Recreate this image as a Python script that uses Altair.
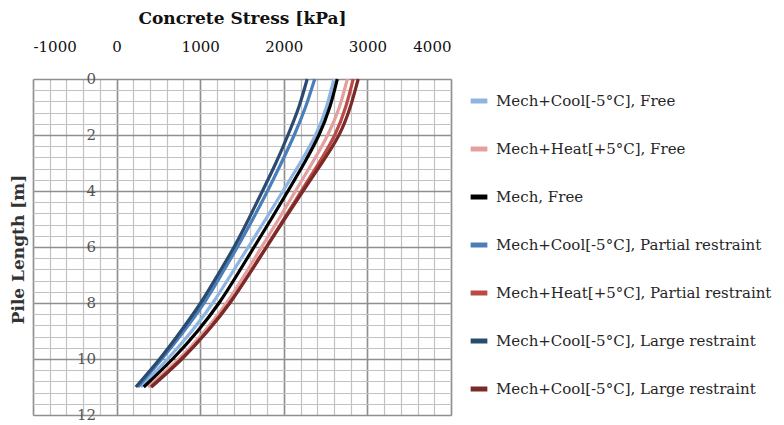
import altair as alt
import pandas as pd

# Depth below pile head [m]
depth = [0, 1, 2, 3, 4, 5, 6, 7, 8, 9, 10, 11]

# Axial concrete stress [kPa] for each load case
cool_free = [2600, 2510, 2380, 2195, 1990, 1785, 1575, 1365, 1150, 900, 610, 290]
heat_free = [2760, 2665, 2525, 2340, 2140, 1940, 1735, 1530, 1315, 1055, 745, 375]
mech_free = [2640, 2550, 2420, 2245, 2050, 1850, 1645, 1440, 1225, 970, 670, 325]
cool_partial = [2370, 2260, 2125, 1970, 1805, 1630, 1445, 1250, 1045, 805, 540, 255]
heat_partial = [2830, 2740, 2610, 2420, 2210, 2000, 1790, 1575, 1350, 1085, 775, 410]
cool_large = [2280, 2180, 2050, 1905, 1745, 1580, 1405, 1210, 1005, 770, 515, 230]
cool_large_2 = [2890, 2795, 2660, 2455, 2230, 2010, 1795, 1580, 1355, 1090, 780, 415]

series_names = [
    "Mech+Cool[-5°C], Free",
    "Mech+Heat[+5°C], Free",
    "Mech, Free",
    "Mech+Cool[-5°C], Partial restraint",
    "Mech+Heat[+5°C], Partial restraint",
    "Mech+Cool[-5°C], Large restraint",
    "Mech+Cool[-5°C], Large restraint",
]
series_values = [cool_free, heat_free, mech_free, cool_partial,
                 heat_partial, cool_large, cool_large_2]
series_colors = ["#8EB4E3", "#E3A09E", "#000000", "#4A7EBB",
                 "#BB4A47", "#2B4A70", "#7A2A28"]

x_ticks = [-1000, 0, 1000, 2000, 3000, 4000]
y_ticks = [0, 2, 4, 6, 8, 10, 12]
x_minor = list(range(-1000, 4001, 200))
y_minor = [round(0.4 * i, 1) for i in range(31)]

# Series keys are numbered so the two identically named cases stay separate
keys = [str(i + 1) for i in range(len(series_names))]
rows = []
for k, vals in zip(keys, series_values):
    for d, v in zip(depth, vals):
        rows.append({"series": k, "depth": d, "stress": v})
df = pd.DataFrame(rows)

FONT = "DejaVu Serif"
W, H = 418, 336

x_scale = alt.Scale(domain=[-1000, 4000], nice=False, zero=False)
y_scale = alt.Scale(domain=[0, 12], nice=False, zero=False, reverse=True)

label_lookup = "[" + ",".join("'" + n + "'" for n in series_names) + "]"

minor = alt.Chart(df).mark_line(opacity=0).encode(
    x=alt.X("stress:Q", scale=x_scale,
            axis=alt.Axis(orient="top", values=x_minor, grid=True, labels=False,
                          ticks=False, domain=False, title=None,
                          gridColor="#c2c2c2", gridWidth=1.2)),
    y=alt.Y("depth:Q", scale=y_scale,
            axis=alt.Axis(orient="left", values=y_minor, grid=True, labels=False,
                          ticks=False, domain=False, title=None,
                          gridColor="#c2c2c2", gridWidth=1.2)),
    detail="series:N",
)

lines = alt.Chart(df).mark_line(strokeWidth=3.2, interpolate="natural").encode(
    x=alt.X("stress:Q", scale=x_scale,
            axis=alt.Axis(orient="top", values=x_ticks, grid=True,
                          labelExpr="'' + datum.value",
                          gridColor="#8f8f8f", gridWidth=1.6,
                          ticks=False, tickSize=0, domain=False,
                          labelFont=FONT, labelFontSize=15, labelColor="#111111",
                          labelPadding=25,
                          title="Concrete Stress [kPa]", titleFont=FONT,
                          titleFontSize=17, titleFontWeight="bold",
                          titleColor="#111111", titleX=W / 2, titleY=-61,
                          titleAlign="center", titleBaseline="middle")),
    y=alt.Y("depth:Q", scale=y_scale,
            axis=alt.Axis(orient="left", values=y_ticks, grid=True,
                          gridColor="#8f8f8f", gridWidth=1.6,
                          labels=False, ticks=False, domain=False,
                          title="Pile Length [m]", titleFont=FONT,
                          titleFontSize=17, titleFontWeight="bold",
                          titleColor="#333333", titleX=-15, titleY=H / 2 + 2,
                          titleAngle=-90, titleAlign="center",
                          titleBaseline="middle")),
    color=alt.Color("series:N",
                    scale=alt.Scale(domain=keys, range=series_colors),
                    legend=alt.Legend(orient="none", legendX=435, legendY=11,
                                      title=None, padding=0,
                                      symbolType="stroke", symbolSize=280,
                                      symbolStrokeWidth=5, labelOffset=6,
                                      labelFont=FONT, labelFontSize=15,
                                      labelColor="#262626", labelLimit=400,
                                      rowPadding=27,
                                      labelExpr=label_lookup + "[toNumber(datum.label) - 1]")),
    order=alt.Order("depth:Q"),
)

# Depth labels sit inside the plot, left of the zero-stress line
ylab = alt.Chart(pd.DataFrame({"depth": y_ticks})).mark_text(
    align="right", baseline="middle", font=FONT, fontSize=15, color="#555555"
).encode(
    x=alt.value(63),
    y=alt.Y("depth:Q", scale=y_scale, axis=None),
    text=alt.Text("depth:Q"),
)

chart = alt.layer(minor, lines, ylab).resolve_axis(
    x="independent", y="independent"
).properties(
    width=W, height=H,
    autosize=alt.AutoSizeParams(type="none"),
    padding={"left": 33, "top": 79, "right": 333, "bottom": 10},
).configure_view(stroke=None).configure(background="white")

chart.save("out.html", embed_options={"renderer": "svg", "actions": False})
